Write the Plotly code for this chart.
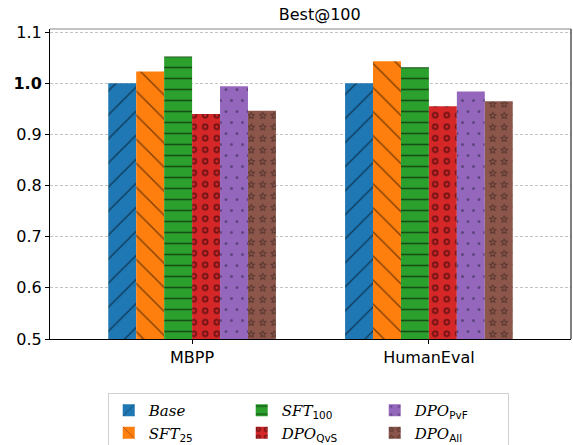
import plotly.graph_objects as go
import math

categories = ["MBPP", "HumanEval"]
base = [1.0, 1.0]
sft25 = [1.023, 1.043]
sft100 = [1.052, 1.031]
dpo_qvs = [0.940, 0.955]
dpo_pvf = [0.994, 0.984]
dpo_all = [0.946, 0.965]
values = [base, sft25, sft100, dpo_qvs, dpo_pvf, dpo_all]

sub = "<span style='font-family:DejaVu Sans;font-style:normal'>%s</span>"
labels = [
    "<i>Base</i>",
    "<i>SFT</i><sub>" + sub % "25" + "</sub>",
    "<i>SFT</i><sub>" + sub % "100" + "</sub>",
    "<i>DPO</i><sub>" + sub % "QvS" + "</sub>",
    "<i>DPO</i><sub>" + sub % "PvF" + "</sub>",
    "<i>DPO</i><sub>" + sub % "All" + "</sub>",
]
colors = ["#1f77b4", "#ff7f0e", "#2ca02c", "#d62728", "#9467bd", "#8c564b"]
# legend fill order (row-wise) to emulate column-major legend
ranks = [1, 4, 2, 5, 3, 6]

patterns = [
    dict(shape="/", size=17, solidity=0.08, fgcolor="black"),
    dict(shape="\\", size=17, solidity=0.08, fgcolor="black"),
    dict(shape="-", size=11, solidity=0.15, fgcolor="black"),
    dict(shape=".", size=14, solidity=0.15, fgcolor="black"),
    dict(shape=".", size=16, solidity=0.05, fgcolor="#222"),
    dict(shape="x", size=12, solidity=0.08, fgcolor="black"),
]


def circ(cx, cy, r, cw=True):
    s = 1 if cw else 0
    return ("M%.2f,%.2fA%.2f,%.2f 0 1,%d %.2f,%.2fA%.2f,%.2f 0 1,%d %.2f,%.2fZ"
            % (cx + r, cy, r, r, s, cx - r, cy, r, r, s, cx + r, cy))


def star_path(cx, cy, ro, ri, reverse=False):
    pts = []
    for k in range(10):
        ang = -math.pi / 2 + k * math.pi / 5
        r = ro if k % 2 == 0 else ri
        pts.append((cx + r * math.cos(ang), cy + r * math.sin(ang)))
    if reverse:
        pts = pts[::-1]
    return "M" + "L".join("%.2f,%.2f" % p for p in pts) + "Z"


ring = circ(5.75, 5.75, 3.3, True) + circ(5.75, 5.75, 1.6, False)
dots = (circ(5.5, 5.5, 1.5) + circ(16.5, 5.5, 1.5) + circ(11, 16.5, 1.5)
        + circ(0, 16.5, 1.5) + circ(22, 16.5, 1.5))
star = star_path(5.75, 6.2, 4.4, 1.9) + star_path(5.75, 6.2, 2.6, 1.1, reverse=True)
try:
    go.bar.marker.Pattern(path=ring)
    patterns[3] = dict(path=ring, size=11.5, fgcolor="black")
    patterns[4] = dict(path=dots, size=22, fgcolor="#2a2040")
    patterns[5] = dict(path=star, size=11.5, fgcolor="black")
except Exception:
    pass

fig = go.Figure()
for i in range(6):
    fig.add_trace(go.Bar(
        x=categories, y=values[i], name=labels[i],
        marker=dict(color=colors[i], line=dict(width=0), pattern=patterns[i]),
        legendrank=ranks[i],
    ))

tickvals = [0.5, 0.6, 0.7, 0.8, 0.9, 1.0, 1.1]
ticktext = ["0.5", "0.6", "0.7", "0.8", "0.9", "<b>1.0</b>", "1.1"]

fig.update_layout(
    width=573, height=445,
    margin=dict(l=50, r=2, t=29, b=106),
    paper_bgcolor="white", plot_bgcolor="white",
    barmode="group", bargap=0.292, bargroupgap=0,
    font=dict(family="DejaVu Sans", size=16, color="black"),
    title=dict(text="Best@100", x=0.558, xanchor="center", y=0.968, yanchor="middle",
               font=dict(size=16)),
    showlegend=True,
    legend=dict(orientation="h", xref="container", yref="container",
                x=0.188, xanchor="left", y=0.117, yanchor="top",
                entrywidth=88, bordercolor="#d0d0d0", borderwidth=1,
                font=dict(family="DejaVu Serif", size=15), traceorder="normal"),
    xaxis=dict(type="category", range=[-0.6, 1.6], showline=True, linecolor="black",
               linewidth=1, ticks="outside", ticklen=4, tickcolor="black",
               showgrid=False, tickfont=dict(size=16)),
    yaxis=dict(range=[0.5, 1.106], tickvals=tickvals, ticktext=ticktext,
               showline=True, linecolor="black", linewidth=1, ticks="outside",
               ticklen=4, tickcolor="black", showgrid=True, gridcolor="#c4c4c4",
               griddash="3px,2px", gridwidth=1, zeroline=False, tickfont=dict(size=16)),
    shapes=[
        dict(type="line", xref="paper", yref="paper", x0=0, x1=1, y0=1, y1=1,
             line=dict(color="#888888", width=1.2)),
        dict(type="line", xref="paper", yref="paper", x0=1, x1=1, y0=0, y1=1,
             line=dict(color="black", width=1)),
    ],
)

fig.write_html("out.html")
